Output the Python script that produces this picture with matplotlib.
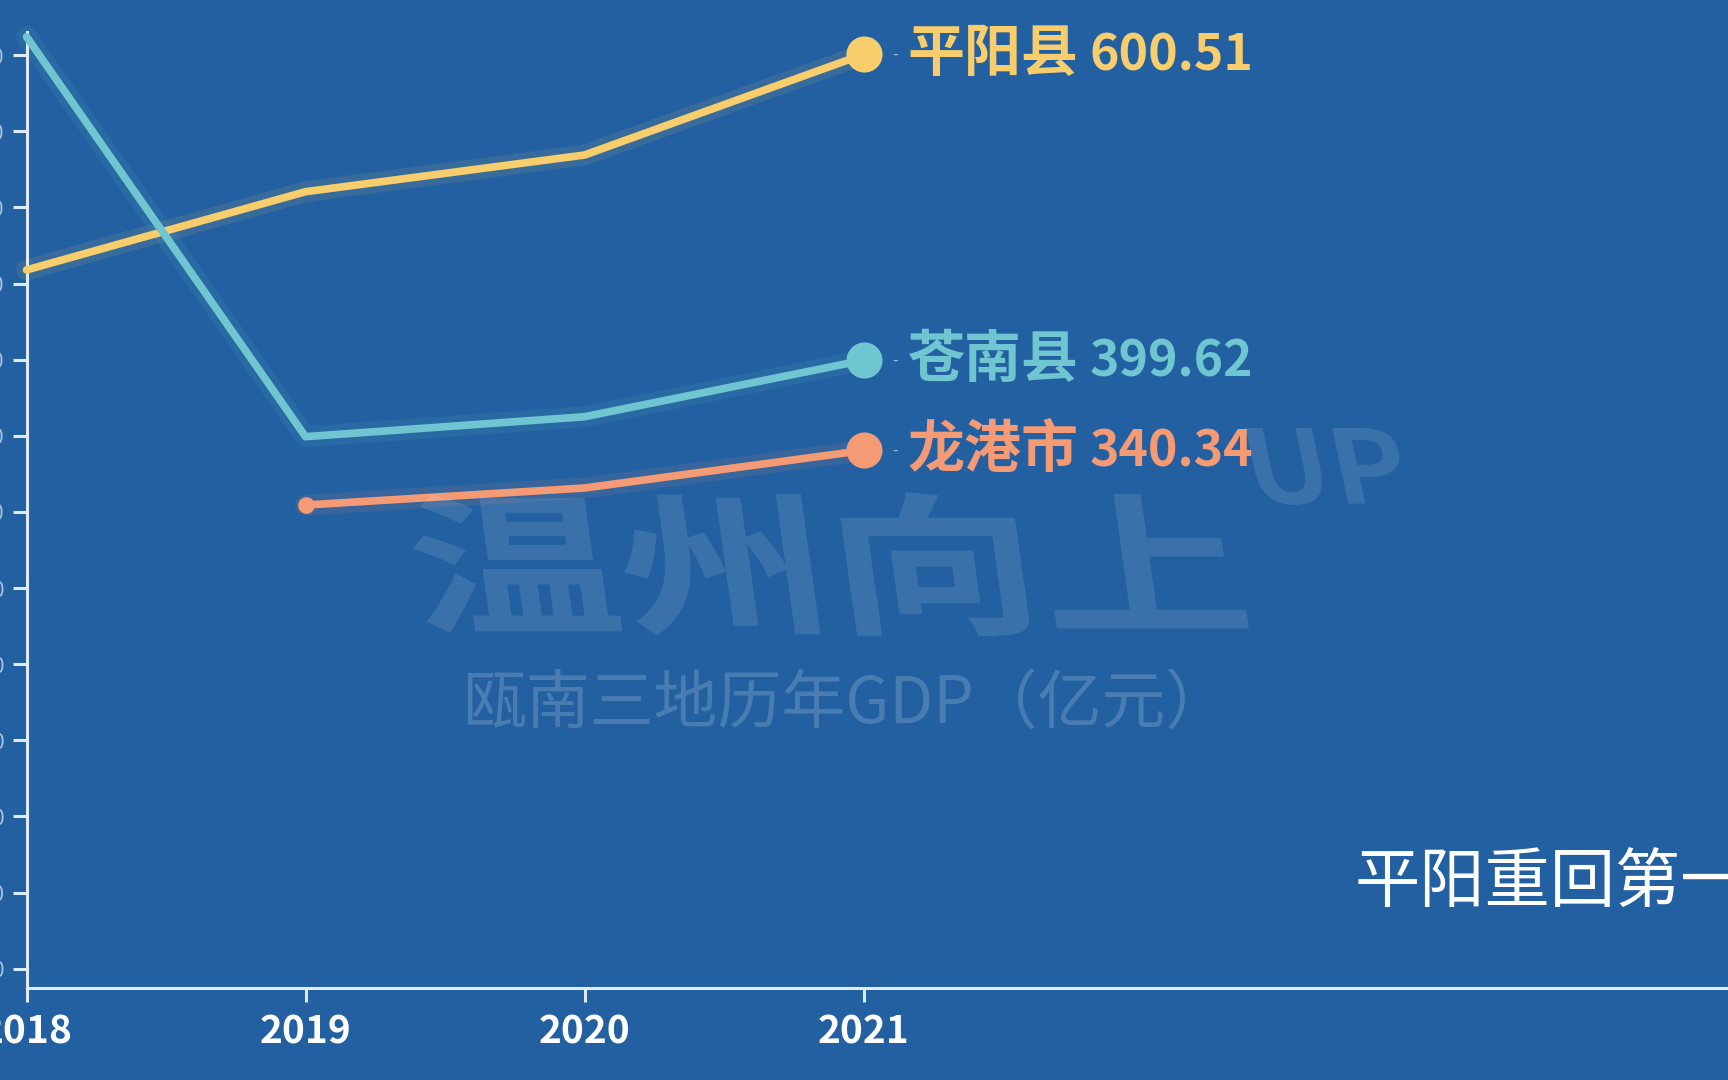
"""GDP of the three Ounan regions, 2018-2021 (frame of an animated line chart)."""

import numpy as np
from matplotlib import pyplot as plt
from matplotlib.patches import PathPatch
from matplotlib.textpath import TextPath
from matplotlib.font_manager import FontProperties
from matplotlib.transforms import Affine2D

plt.rcParams["font.family"] = ["Noto Sans CJK SC", "DejaVu Sans"]

BG = "#2260a1"

years = [2018, 2019, 2020, 2021]
names = ["平阳县", "苍南县", "龙港市"]
pingyang = [458.9, 510.3, 534.4, 600.51]
cangnan = [612.1, 349.4, 362.5, 399.62]
longgang = [np.nan, 304.5, 315.7, 340.34]
colors = ["#f8cd6c", "#6fc6d0", "#f49a74"]
y_ticks = list(range(0, 601, 50))

W, H = 1728, 1080


def add_path(fig, text, box, weight="bold", skew=0.0, color="white", alpha=0.1):
    """Draw text as a path stretched into a pixel box (x0, y0, x1, y1), top-left origin."""
    fp = FontProperties(family="Noto Sans CJK SC", weight=weight)
    tp = TextPath((0, 0), text, size=100, prop=fp)
    ext = tp.get_extents()
    x0, y0, x1, y1 = box
    sx = (x1 - x0) / ext.width
    sy = (y1 - y0) / ext.height
    tr = (Affine2D().translate(-ext.x0, -ext.y0).scale(sx, sy)
          .skew_deg(skew, 0).translate(x0, H - y1))
    patch = PathPatch(tr.transform_path(tp), facecolor=color, edgecolor="none",
                      alpha=alpha, transform=None)
    fig.patches.append(patch)


def main():
    fig = plt.figure(figsize=(W / 100, H / 100), dpi=100, facecolor=BG)
    ax = fig.add_axes([0, 92 / H, 1, 988 / H])
    ax.set_facecolor(BG)
    ax.set_xlim(2017.905, 2024.098)
    ax.set_ylim(-12.7, 636.2)

    # watermark
    add_path(fig, "温州向上", (425, 492, 1250, 636), skew=-8, alpha=0.11)
    add_path(fig, "UP", (1262, 428, 1410, 505), skew=-12, alpha=0.11)
    fig.text(846 / W, 1 - 705 / H, "瓯南三地历年GDP（亿元）", color="white",
             alpha=0.18, fontsize=46, ha="center", va="center")

    series = [pingyang, cangnan, longgang]
    for vals, name, c in zip(series, names, colors):
        ax.plot(years, vals, color=c, lw=15, alpha=0.1, solid_capstyle="round", zorder=2)
        ax.plot(years, vals, color=c, lw=5.5, solid_capstyle="round", zorder=3)
        ax.plot(years[-1], vals[-1], "o", color=c, ms=26, mec="none", zorder=4)
        valid = [i for i, v in enumerate(vals) if not np.isnan(v)]
        if valid[0] > 0:
            ax.plot(years[valid[0]], vals[valid[0]], "o", color=c, ms=12,
                    mec="none", zorder=4)
        ax.annotate("-", (years[-1], vals[-1]), xytext=(32, 0),
                    textcoords="offset pixels", color="#9fb8d8", fontsize=12,
                    va="center", ha="center")
        ax.annotate(name, (years[-1], vals[-1]), xytext=(44, 0),
                    textcoords="offset pixels", color=c, fontsize=41,
                    fontweight="bold", va="center", ha="left")
        ax.annotate(f"{vals[-1]:.2f}", (years[-1], vals[-1]), xytext=(226, -2),
                    textcoords="offset pixels", color=c, fontsize=36,
                    fontweight="bold", va="center", ha="left")

    fig.text(1355 / W, 1 - 885 / H, "平阳重回第一", color="white", fontsize=47,
             ha="left", va="center")

    axis_c = "#dcecf8"
    for s in ("top", "right"):
        ax.spines[s].set_visible(False)
    ax.spines["left"].set_position(("data", 2018))
    ax.spines["left"].set_bounds(-12.7, 615)
    ax.spines["bottom"].set_bounds(2018, 2024.098)
    for s in ("left", "bottom"):
        ax.spines[s].set_color(axis_c)
        ax.spines[s].set_linewidth(2.2)

    ax.set_yticks(y_ticks)
    ax.set_yticklabels([str(v) for v in y_ticks])
    ax.tick_params(axis="y", colors=axis_c, length=10, width=2.2, pad=6,
                   labelsize=15, labelcolor="#a9c2de")
    ax.set_xticks(years)
    ax.set_xticklabels([str(y) for y in years])
    ax.tick_params(axis="x", colors=axis_c, length=10, width=2.2, pad=8,
                   labelsize=28, labelcolor="white")
    for lbl in ax.get_xticklabels():
        lbl.set_fontweight("bold")

    fig.savefig("out.png", dpi=100, facecolor=BG)


if __name__ == "__main__":
    main()
